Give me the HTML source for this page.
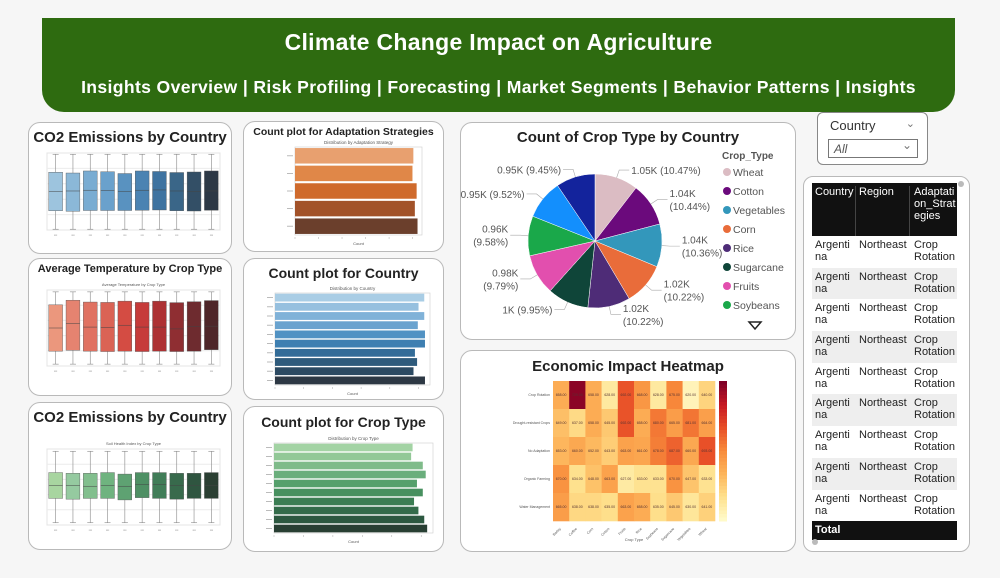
<!DOCTYPE html>
<html><head><meta charset="utf-8">
<style>
*{box-sizing:border-box;margin:0;padding:0}
body{width:1000px;height:578px;background:#f6f6f6;font-family:"Liberation Sans",sans-serif;position:relative;overflow:hidden}
.hdr{position:absolute;left:42px;top:18px;width:913px;height:94px;background:#2e6b10;border-radius:0 0 22px 22px;color:#fff;text-align:center}
.hdr h1{font-size:23px;font-weight:bold;margin-top:11px;letter-spacing:.3px}
.nav{font-size:17.6px;font-weight:bold;margin-top:21px;letter-spacing:.35px}
.p{position:absolute;background:#fff;border:1px solid #b9b9b9;border-radius:12px}
.t{position:absolute;left:0;right:0;text-align:center;font-weight:bold;color:#222}
svg{position:absolute;left:0;top:0}
.tbl{position:absolute;left:8px;top:6px;width:145px;font-size:11px;color:#222}
.tbl .r{display:flex;height:31.7px;padding-top:3px}
.tbl .c1{width:44px;padding-left:3px}.tbl .c2{width:54px;padding-left:3px}.tbl .c3{width:47px;padding-left:4px}
</style></head><body>
<div class="hdr">
<h1>Climate Change Impact on Agriculture</h1>
<div class="nav">Insights Overview | Risk Profiling | Forecasting | Market Segments | Behavior Patterns | Insights</div>
</div>

<div class="p" style="left:28px;top:122px;width:204px;height:132px"><div class="t" style="top:6px;font-size:15px">CO2 Emissions by Country</div></div>
<div class="p" style="left:28px;top:258px;width:204px;height:138px"><div class="t" style="top:4px;font-size:11px">Average Temperature by Crop Type</div></div>
<div class="p" style="left:28px;top:402px;width:204px;height:148px"><div class="t" style="top:6px;font-size:15px">CO2 Emissions by Country</div></div>
<div class="p" style="left:243px;top:121px;width:201px;height:131px"><div class="t" style="top:4px;font-size:10.5px">Count plot for Adaptation Strategies</div></div>
<div class="p" style="left:243px;top:258px;width:201px;height:142px"><div class="t" style="top:6px;font-size:14px">Count plot for Country</div></div>
<div class="p" style="left:243px;top:406px;width:201px;height:146px"><div class="t" style="top:7px;font-size:14px">Count plot for Crop Type</div></div>
<div class="p" style="left:460px;top:122px;width:336px;height:218px"><div class="t" style="top:6px;font-size:15px">Count of Crop Type by Country</div></div>
<div class="p" style="left:460px;top:350px;width:336px;height:202px"><div class="t" style="top:7px;font-size:15px">Economic Impact Heatmap</div></div>

<div class="p" style="left:817px;top:112px;width:111px;height:53px;border-radius:6px;border-color:#888">
<div style="position:absolute;left:12px;top:5px;font-size:13px;color:#333">Country</div>
<div style="position:absolute;right:12px;top:4px;font-size:11px;color:#777">&#8964;</div>
<div style="position:absolute;left:10px;top:26px;width:90px;height:19px;border:1px solid #777;font-size:12px;font-style:italic;color:#555;padding:2px 5px">All<span style="position:absolute;right:5px;top:-2px;font-style:normal;color:#777">&#8964;</span></div>
</div>

<div class="p" style="left:803px;top:176px;width:167px;height:376px;border-radius:10px">
<div class="tbl">
<div class="r" style="background:#111;color:#fff;height:53px"><div class="c1" style="border-right:1px solid #444">Country</div><div class="c2" style="border-right:1px solid #444">Region</div><div class="c3">Adaptati on_Strat egies</div></div>
<div id="rows"></div>
<div class="r" style="background:#111;color:#fff;height:19px;font-weight:bold;padding-top:3px"><div class="c1">Total</div></div>
</div>
<div style="position:absolute;right:5px;top:4px;width:6px;height:6px;border-radius:3px;background:#bbb"></div>
<div style="position:absolute;left:8px;bottom:6px;width:6px;height:6px;border-radius:3px;background:#bbb"></div>
</div>

<svg id="s" width="1000" height="578" xmlns="http://www.w3.org/2000/svg"></svg>

<script>
// ---- data ----
const countries=["Australia","Brazil","Canada","China","France","Argentina","India","Russia","USA","Nigeria"];
const co2Q1=[7.5,7.3,7.6,7.6,7.6,7.7,7.8,7.5,7.4,7.7];
const co2Med=[15,15.2,15.5,15.3,15.1,15.5,15.6,15.2,15.1,15.2];
const co2Q3=[22.5,22.2,23,22.7,22,23,22.8,22.4,22.6,23];
const co2Colors=["#9dc4de","#8bb8d8","#79acd2","#6aa1cc","#5992c0","#4b83b2","#3f73a0","#3a6688","#334f66","#2d3845"];
const crops=["Barley","Coffee","Corn","Cotton","Fruits","Rice","Soybeans","Sugarcane","Vegetables","Wheat"];
const tempQ1=[2,2.5,2,1.8,2,1.8,2,1.8,2,2.8];
const tempMed=[14.5,17,15,14.8,16,15,15,14,15.2,15.5];
const tempQ3=[27,29.5,28.5,28.3,29,28.3,29,28.2,28.7,29.3];
const tempColors=["#eb977d","#e58370","#e07262","#da6355","#d44c43","#c63b3a","#ad3234","#8f2e32","#6e2b2f","#4e2629"];
const soilQ1=[3.5,3.4,3.5,3.5,3.3,3.6,3.5,3.4,3.5,3.5];
const soilMed=[5.2,5.2,5.1,5.2,5.1,5.3,5.3,5.2,5.2,5.2];
const soilQ3=[6.9,6.8,6.8,6.9,6.7,6.9,6.9,6.8,6.8,6.9];
const soilColors=["#a8d5a0","#95caa0","#82bf8e","#6fb37f","#5ea272","#4e9064","#417d58","#386a4c","#2f5540","#2b3f33"];
const strategies=["Organic Farming","Crop Rotation","No Adaptation","Drought-resistant Crops","Water Management"];
const stratCounts=[1985,1970,2040,2010,2055];
const stratColors=["#e8a06f","#e08748","#cf6a2c","#a25229","#6b3f2c"];
const countryCounts=[1040,1000,1040,995,1045,1045,975,990,965,1045];
const countryColors=["#a9cde5","#96c0df","#80b2d8","#6aa3cf","#5192c3","#3e7fb1","#336c98","#2f5b7c","#2c4a62","#2d3844"];
const countryNames=["Australia","Argentina","India","Canada","Nigeria","USA","Mexico","France","Brazil","China"];
const cropCounts=[950,940,1020,1040,980,1020,960,990,1030,1050];
const cropColors=["#a3d3a4","#92c897","#7fbb8a","#6aae7c","#56a06c","#47905f","#3b7d53","#336b4a","#2c5840","#283f33"];
const pieLabels=["Wheat","Cotton","Vegetables","Corn","Rice","Sugarcane","Fruits","Soybeans","Barley","Coffee"];
const piePct=[10.47,10.44,10.36,10.22,10.22,9.95,9.79,9.58,9.52,9.45];
const pieText=["1.05K (10.47%)","1.04K|(10.44%)","1.04K|(10.36%)","1.02K|(10.22%)","1.02K|(10.22%)","1K (9.95%)","0.98K|(9.79%)","0.96K|(9.58%)","0.95K (9.52%)","0.95K (9.45%)"];
const pieColors=["#dbbcc3","#6b0a7c","#3397bb","#e96c3a","#4e2c77","#0f4539","#e24fae","#1aa84a","#138ffd","#13239c"];
const heatRows=["Crop Rotation","Drought-resistant Crops","No Adaptation","Organic Farming","Water Management"];
const heatVals=[
[658,729,658,628,692,668,628,675,620,640],
[649,637,658,645,692,658,680,665,681,664],
[653,660,652,643,663,661,678,687,660,693],
[670,634,648,663,627,633,633,670,647,633],
[665,638,638,635,663,658,635,645,630,641]];
const heatMin=615, heatMax=732;
// ---- helpers ----
const S=document.getElementById('s');const NS="http://www.w3.org/2000/svg";
function mk(tag,at,parent){const e=document.createElementNS(NS,tag);for(const k in at)e.setAttribute(k,at[k]);(parent||S).appendChild(e);return e;}
function txt(x,y,s,sz,fill,anchor,parent){const e=mk('text',{x:x,y:y,'font-size':sz,fill:fill||'#444','text-anchor':anchor||'middle','font-family':'Liberation Sans, sans-serif'},parent);e.textContent=s;return e;}

function boxplot(name,x0,x1,y0,y1,vmin,vmax,q1,med,q3,wlo,whi,colors,title){
  const g=mk('g',{});
  
  
  const ys=v=>y1-(v-vmin)/(vmax-vmin)*(y1-y0);
  mk('rect',{x:x0,y:y0,width:x1-x0,height:y1-y0,fill:'#fff',stroke:'#e4e4e4'},g);
  for(let i=1;i<5;i++)mk('line',{x1:x0,x2:x1,y1:y0+i*(y1-y0)/5,y2:y0+i*(y1-y0)/5,stroke:'#ececec'},g);
  if(title)txt((x0+x1)/2,y0-4,title,4,'#555','middle',g);
  const n=q1.length,bw=(x1-x0)/n;
  for(let i=0;i<n;i++){
    const cx=x0+bw*(i+.5);
    mk('line',{x1:cx,x2:cx,y1:ys(whi),y2:ys(wlo),stroke:'#888','stroke-width':.6},g);
    mk('line',{x1:cx-3,x2:cx+3,y1:ys(whi),y2:ys(whi),stroke:'#888','stroke-width':.6},g);
    mk('line',{x1:cx-3,x2:cx+3,y1:ys(wlo),y2:ys(wlo),stroke:'#888','stroke-width':.6},g);
    const b=mk('rect',{x:cx-bw*0.4,y:ys(q3[i]),width:bw*0.8,height:ys(q1[i])-ys(q3[i]),fill:colors[i],stroke:'#555','stroke-width':.4},g);
    
    
    mk('line',{x1:cx-bw*0.4,x2:cx+bw*0.4,y1:ys(med[i]),y2:ys(med[i]),stroke:'#444','stroke-width':.5},g);
    txt(cx,y1+6,'▪▪▪',3,'#888','middle',g);
  }
}
boxplot('co2-boxplot',47,220,153,230,0,30,co2Q1,co2Med,co2Q3,0.3,29.5,co2Colors,'');
boxplot('temp-boxplot',47,220,290,366,-6,35,tempQ1,tempMed,tempQ3,-5,34,tempColors,'Average Temperature by Crop Type');
boxplot('soil-boxplot',47,220,449,525,0,10,soilQ1,soilMed,soilQ3,0.3,9.7,soilColors,'Soil Health Index by Crop Type');

function hbar(name,x0,x1,y0,y1,vmax,vals,colors,title,gap){
  const g=mk('g',{});
  
  
  mk('rect',{x:x0,y:y0,width:x1-x0,height:y1-y0,fill:'#fff',stroke:'#ccc','stroke-width':.6},g);
  txt((x0+x1)/2,y0-3,title,4.5,'#555','middle',g);
  const n=vals.length,bh=(y1-y0)/n;
  for(let i=0;i<n;i++){
    const w=vals[i]/vmax*(x1-x0);
    const b=mk('rect',{x:x0,y:y0+bh*i+bh*gap/2,width:w,height:bh*(1-gap),fill:colors[i]},g);
    
    
    mk('line',{x1:x0-8,x2:x0-2,y1:y0+bh*(i+.5),y2:y0+bh*(i+.5),stroke:'#aaa','stroke-width':.8},g);
  }
  for(let t=0;t<6;t++)mk('line',{x1:x0+t*(x1-x0)/5.4,x2:x0+t*(x1-x0)/5.4,y1:y1+2,y2:y1+4,stroke:'#aaa','stroke-width':.5},g);
  txt((x0+x1)/2,y1+10,'Count',4,'#555','middle',g);
}
hbar('adaptation-bar-chart',295,422,147,235,2130,stratCounts,stratColors,'Distribution by Adaptation Strategy',0.12);
hbar('country-bar-chart',275,430,293,385,1080,countryCounts,countryColors,'Distribution by Country',0.15);
hbar('crop-bar-chart',274,433,443,533,1090,cropCounts,cropColors,'Distribution by Crop Type',0.15);

// pie
(function(){
  const g=mk('g',{});
  
  
  const cx=595,cy=241,r=67;const tot=piePct.reduce((a,b)=>a+b,0);let a=-Math.PI/2;
  for(let i=0;i<piePct.length;i++){
    const da=piePct[i]/tot*2*Math.PI,a2=a+da;
    const p=mk('path',{d:`M${cx},${cy}L${cx+r*Math.cos(a)},${cy+r*Math.sin(a)}A${r},${r} 0 0 1 ${cx+r*Math.cos(a2)},${cy+r*Math.sin(a2)}Z`,fill:pieColors[i],stroke:'#fff','stroke-width':.5},g);
    
    
    const m=(a+a2)/2,right=Math.cos(m)>=0;
    const ex=cx+(r+8)*Math.cos(m),ey=cy+(r+8)*Math.sin(m);
    const lx=ex+(right?10:-10);
    mk('polyline',{points:`${cx+r*Math.cos(m)},${cy+r*Math.sin(m)} ${ex},${ey} ${lx},${ey}`,fill:'none',stroke:'#aaa','stroke-width':.6},g);
    const parts=pieText[i].split('|');
    parts.forEach((s,k)=>txt(lx+(right?2:-2),ey+4+(k-(parts.length-1)/2)*13,s,10,'#555',right?'start':'end',g));
    a=a2;
  }
  txt(722,159,'Crop_Type',10,'#555','start',g).setAttribute('font-weight','bold');
  for(let i=0;i<8;i++){
    mk('circle',{cx:727,cy:172+i*19,r:4,fill:pieColors[i]},g);
    const t=txt(733,176+i*19,pieLabels[i],10.5,'#555','start',g);
    
    
  }
  mk('path',{d:'M749,322 L761,322 L755,329 Z',fill:'none',stroke:'#222','stroke-width':1.5},g);
})();

// heatmap
(function(){
  const g=mk('g',{});
  
  
  const x0=553,x1=715,y0=381,y1=521;const nc=heatVals[0].length,nr=heatVals.length;
  const cw=(x1-x0)/nc,ch=(y1-y0)/nr;
  function col(v){const t=Math.max(0,Math.min(1,(v-heatMin)/(heatMax-heatMin)));
    const st=[[255,250,200],[254,224,140],[253,180,90],[248,140,60],[232,80,40],[200,25,35],[128,0,38]];
    const p=t*(st.length-1),k=Math.min(st.length-2,Math.floor(p)),f=p-k;
    const c=st[k].map((u,j)=>Math.round(u+(st[k+1][j]-u)*f));return `rgb(${c})`;}
  for(let r=0;r<nr;r++){for(let c=0;c<nc;c++){
    const cell=mk('rect',{x:x0+c*cw,y:y0+r*ch,width:cw+.3,height:ch+.3,fill:col(heatVals[r][c])},g);
    
    
    txt(x0+c*cw+cw/2,y0+r*ch+ch/2+1,heatVals[r][c].toFixed(2),3.5,'#533','middle',g);}
    txt(x0-3,y0+r*ch+ch/2+1,heatRows[r],3.5,'#555','end',g);}
  for(let c=0;c<nc;c++){const t=txt(x0+c*cw+cw/2,y1+8,crops[c],3.5,'#555','end',g);t.setAttribute('transform',`rotate(-45 ${x0+c*cw+cw/2} ${y1+8})`);}
  txt((x0+x1)/2,y1+20,'Crop Type',4,'#555','middle',g);
  for(let i=0;i<40;i++)mk('rect',{x:719,y:y0+i*(y1-y0)/40,width:8,height:(y1-y0)/40+.5,fill:col(heatMax-(heatMax-heatMin)*i/39)},g);
})();

// table rows
const rowsEl=document.getElementById('rows');
for(let i=0;i<9;i++){
  const d=document.createElement('div');d.className='r';
  
  
  d.style.background=i%2?'#eeeeee':'#fff';
  d.innerHTML='<div class="c1">Argenti na</div><div class="c2">Northeast</div><div class="c3">Crop Rotation</div>';
  rowsEl.appendChild(d);
}
</script>
</body></html>
